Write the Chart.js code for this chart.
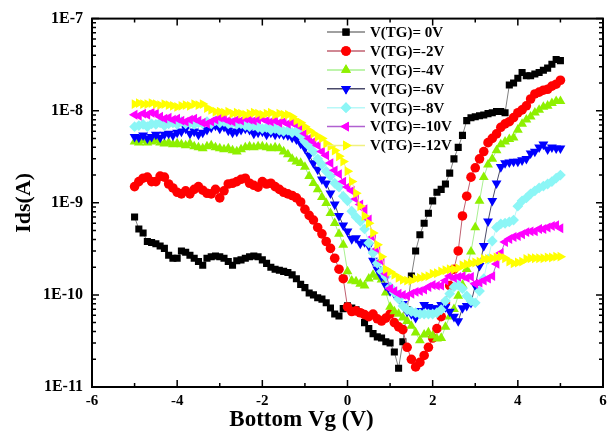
<!DOCTYPE html>
<html>
<head>
<meta charset="utf-8">
<script src="https://cdn.jsdelivr.net/npm/chart.js@4/dist/chart.umd.min.js"></script>
<style>
  html, body { margin: 0; padding: 0; background: #fff; }
  canvas { display: block; }
</style>
</head>
<body>
<canvas id="c" width="615" height="435"></canvas>
<script>
// ---------------- DATA ----------------
const vg = [
  -5.0, -4.9, -4.8, -4.7, -4.6, -4.5, -4.4, -4.3, -4.2, -4.1,
  -4.0, -3.9, -3.8, -3.7, -3.6, -3.5, -3.4, -3.3, -3.2, -3.1,
  -3.0, -2.9, -2.8, -2.7, -2.6, -2.5, -2.4, -2.3, -2.2, -2.1,
  -2.0, -1.9, -1.8, -1.7, -1.6, -1.5, -1.4, -1.3, -1.2, -1.1,
  -1.0, -0.9, -0.8, -0.7, -0.6, -0.5, -0.4, -0.3, -0.2, -0.1,
  0.0, 0.1, 0.2, 0.3, 0.4, 0.5, 0.6, 0.7, 0.8, 0.9,
  1.0, 1.1, 1.2, 1.3, 1.4, 1.5, 1.6, 1.7, 1.8, 1.9,
  2.0, 2.1, 2.2, 2.3, 2.4, 2.5, 2.6, 2.7, 2.8, 2.9,
  3.0, 3.1, 3.2, 3.3, 3.4, 3.5, 3.6, 3.7, 3.8, 3.9,
  4.0, 4.1, 4.2, 4.3, 4.4, 4.5, 4.6, 4.7, 4.8, 4.9,
  5.0
];

const ids_tg0 = [
  7.0e-10, 5.2e-10, 4.7e-10, 3.8e-10, 3.7e-10, 3.6e-10, 3.4e-10, 3.2e-10, 2.7e-10, 2.5e-10,
  2.5e-10, 3.0e-10, 2.9e-10, 2.7e-10, 2.5e-10, 2.3e-10, 2.1e-10, 2.5e-10, 2.6e-10, 2.65e-10,
  2.6e-10, 2.5e-10, 2.3e-10, 2.1e-10, 2.35e-10, 2.4e-10, 2.5e-10, 2.6e-10, 2.65e-10, 2.6e-10,
  2.4e-10, 2.2e-10, 2.0e-10, 1.9e-10, 1.85e-10, 1.8e-10, 1.75e-10, 1.65e-10, 1.5e-10, 1.3e-10,
  1.2e-10, 1.05e-10, 1.0e-10, 9.3e-11, 9.0e-11, 8.2e-11, 7.2e-11, 6.2e-11, 5.9e-11, 7.1e-11,
  7.6e-11, 7.2e-11, 6.9e-11, 6.4e-11, 5.0e-11, 4.3e-11, 3.8e-11, 3.5e-11, 3.4e-11, 3.1e-11,
  3.0e-11, 2.4e-11, 1.6e-11, 3.1e-11, 6.9e-11, 1.6e-10, 3.0e-10, 4.5e-10, 6.0e-10, 7.7e-10,
  1.05e-9, 1.3e-9, 1.4e-9, 1.6e-9, 2.1e-9, 3.0e-9, 4.0e-9, 5.4e-9, 7.8e-9, 8.4e-9,
  8.6e-9, 8.8e-9, 9.0e-9, 9.3e-9, 9.5e-9, 9.8e-9, 9.8e-9, 9.5e-9, 1.9e-8, 2.0e-8,
  2.25e-8, 2.6e-8, 2.4e-8, 2.4e-8, 2.5e-8, 2.6e-8, 2.75e-8, 2.9e-8, 3.2e-8, 3.6e-8,
  3.5e-8
];

const ids_tgm2 = [
  1.5e-9, 1.7e-9, 1.85e-9, 1.9e-9, 1.7e-9, 1.7e-9, 1.95e-9, 1.9e-9, 1.6e-9, 1.45e-9,
  1.3e-9, 1.25e-9, 1.35e-9, 1.25e-9, 1.4e-9, 1.5e-9, 1.37e-9, 1.27e-9, 1.25e-9, 1.4e-9,
  1.13e-9, 1.35e-9, 1.6e-9, 1.63e-9, 1.7e-9, 1.8e-9, 1.85e-9, 1.63e-9, 1.55e-9, 1.48e-9,
  1.7e-9, 1.6e-9, 1.63e-9, 1.5e-9, 1.4e-9, 1.3e-9, 1.25e-9, 1.2e-9, 1.13e-9, 1.02e-9,
  8.5e-10, 7.3e-10, 6.5e-10, 5.4e-10, 4.6e-10, 3.8e-10, 3.2e-10, 2.5e-10, 1.9e-10, 1.5e-10,
  7.4e-11, 6.6e-11, 6.7e-11, 6.4e-11, 6.1e-11, 5.8e-11, 6.2e-11, 5.5e-11, 5.2e-11, 5.6e-11,
  6.2e-11, 5.0e-11, 4.5e-11, 4.2e-11, 2.7e-11, 2.0e-11, 1.65e-11, 1.85e-11, 2.2e-11, 2.7e-11,
  3.4e-11, 4.3e-11, 5.8e-11, 8.2e-11, 1.26e-10, 1.9e-10, 3.0e-10, 7.2e-10, 1.18e-9, 1.9e-9,
  2.4e-9, 3.0e-9, 3.6e-9, 4.5e-9, 5.0e-9, 5.6e-9, 6.6e-9, 7.2e-9, 7.6e-9, 8.4e-9,
  9.5e-9, 1.02e-8, 1.13e-8, 1.34e-8, 1.52e-8, 1.59e-8, 1.67e-8, 1.71e-8, 1.85e-8, 1.94e-8,
  2.14e-8
];

const ids_tgm4 = [
  4.6e-9, 4.5e-9, 4.75e-9, 4.5e-9, 4.6e-9, 4.75e-9, 4.5e-9, 4.4e-9, 4.5e-9, 4.3e-9,
  4.4e-9, 4.3e-9, 4.2e-9, 4.4e-9, 4.1e-9, 4.0e-9, 3.9e-9, 4.1e-9, 4.2e-9, 4.0e-9,
  3.9e-9, 3.8e-9, 3.9e-9, 3.7e-9, 3.6e-9, 3.8e-9, 4.0e-9, 4.1e-9, 4.0e-9, 4.1e-9,
  4.1e-9, 4.0e-9, 3.9e-9, 4.0e-9, 3.9e-9, 3.6e-9, 3.35e-9, 3.0e-9, 2.8e-9, 2.7e-9,
  2.45e-9, 1.95e-9, 1.63e-9, 1.4e-9, 1.15e-9, 9.9e-10, 7.7e-10, 6.0e-10, 4.6e-10, 3.5e-10,
  1.8e-10, 1.43e-10, 1.4e-10, 1.32e-10, 1.26e-10, 1.5e-10, 1.65e-10, 1.57e-10, 1.46e-10, 1.06e-10,
  7.4e-11, 6.6e-11, 6.2e-11, 5.65e-11, 5.2e-11, 4.6e-11, 3.9e-11, 3.2e-11, 3.7e-11, 3.9e-11,
  3.6e-11, 3.35e-11, 3.4e-11, 4.5e-11, 5.8e-11, 7.0e-11, 9.75e-11, 1.28e-10, 1.9e-10, 2.95e-10,
  5.4e-10, 1.05e-9, 1.9e-9, 2.6e-9, 3.0e-9, 3.7e-9, 4.3e-9, 4.6e-9, 4.9e-9, 5.1e-9,
  6.2e-9, 7.2e-9, 8.0e-9, 8.6e-9, 9.5e-9, 1.02e-8, 1.1e-8, 1.13e-8, 1.21e-8, 1.27e-8,
  1.27e-8
];

const ids_tgm6 = [
  5.2e-9, 5.1e-9, 5.4e-9, 5.0e-9, 5.2e-9, 5.5e-9, 5.1e-9, 5.5e-9, 5.65e-9, 5.4e-9,
  5.8e-9, 5.95e-9, 6.4e-9, 5.65e-9, 5.95e-9, 5.5e-9, 5.8e-9, 6.2e-9, 6.55e-9, 6.9e-9,
  6.4e-9, 6.7e-9, 6.1e-9, 5.8e-9, 5.95e-9, 6.2e-9, 6.4e-9, 6.2e-9, 5.65e-9, 5.8e-9,
  5.95e-9, 5.5e-9, 5.8e-9, 5.5e-9, 5.65e-9, 5.5e-9, 5.4e-9, 5.1e-9, 4.9e-9, 4.4e-9,
  3.9e-9, 3.27e-9, 2.7e-9, 2.3e-9, 1.8e-9, 1.63e-9, 1.27e-9, 9.6e-10, 7.2e-10, 5.7e-10,
  4.9e-10, 4.05e-10, 4.15e-10, 3.6e-10, 3.75e-10, 3.4e-10, 2.35e-10, 1.9e-10, 1.57e-10, 1.26e-10,
  1.1e-10, 1.03e-10, 9.3e-11, 8.0e-11, 6.6e-11, 6.2e-11, 5.65e-11, 6.7e-11, 7.8e-11, 7.4e-11,
  7.2e-11, 7.2e-11, 7.8e-11, 7.4e-11, 6.6e-11, 5.8e-11, 5.2e-11, 7.2e-11, 7.6e-11, 8.2e-11,
  1.26e-10, 2.07e-10, 3.4e-10, 6.3e-10, 1.05e-9, 1.63e-9, 2.45e-9, 2.7e-9, 2.75e-9, 2.8e-9,
  2.8e-9, 2.9e-9, 3.0e-9, 3.45e-9, 3.6e-9, 4.0e-9, 4.3e-9, 3.8e-9, 4.0e-9, 3.9e-9,
  3.9e-9
];

const ids_tgm8 = [
  6.7e-9, 6.9e-9, 7.1e-9, 6.7e-9, 7.2e-9, 7.1e-9, 7.4e-9, 6.9e-9, 7.2e-9, 7.4e-9,
  7.1e-9, 7.6e-9, 7.2e-9, 7.4e-9, 7.1e-9, 7.4e-9, 7.2e-9, 7.6e-9, 7.2e-9, 7.8e-9,
  7.4e-9, 7.6e-9, 7.2e-9, 7.4e-9, 7.1e-9, 7.2e-9, 6.9e-9, 6.7e-9, 6.9e-9, 6.55e-9,
  6.4e-9, 6.55e-9, 6.2e-9, 6.4e-9, 6.1e-9, 5.95e-9, 6.1e-9, 5.8e-9, 5.95e-9, 5.4e-9,
  4.6e-9, 4.1e-9, 3.6e-9, 3.0e-9, 2.6e-9, 2.2e-9, 1.95e-9, 1.63e-9, 1.48e-9, 1.18e-9,
  1.05e-9, 8.1e-10, 7.0e-10, 6.3e-10, 5.2e-10, 3.65e-10, 2.85e-10, 2.2e-10, 1.8e-10, 1.57e-10,
  1.22e-10, 1.06e-10, 9.0e-11, 7.6e-11, 6.9e-11, 6.6e-11, 6.4e-11, 6.2e-11, 6.2e-11, 6.2e-11,
  6.2e-11, 6.4e-11, 6.9e-11, 8.6e-11, 1.03e-10, 1.22e-10, 1.28e-10, 1.17e-10, 9.75e-11, 8.6e-11,
  8.2e-11, 1.1e-10, 1.5e-10, 2.45e-10, 3.85e-10, 5.4e-10, 5.9e-10, 6.0e-10, 6.2e-10, 6.5e-10,
  9.2e-10, 1.05e-9, 1.13e-9, 1.25e-9, 1.35e-9, 1.45e-9, 1.52e-9, 1.6e-9, 1.7e-9, 1.85e-9,
  2.0e-9
];

const ids_tgm10 = [
  9.05e-9, 8.8e-9, 9.3e-9, 9.05e-9, 9.5e-9, 9.3e-9, 8.6e-9, 8.2e-9, 8.4e-9, 8.0e-9,
  8.2e-9, 7.8e-9, 7.6e-9, 8.0e-9, 8.2e-9, 7.8e-9, 7.4e-9, 7.2e-9, 7.6e-9, 8.0e-9,
  8.4e-9, 8.2e-9, 7.8e-9, 7.6e-9, 8.0e-9, 7.8e-9, 8.2e-9, 8.0e-9, 7.8e-9, 8.0e-9,
  8.2e-9, 7.8e-9, 7.6e-9, 7.8e-9, 7.4e-9, 7.6e-9, 7.2e-9, 7.4e-9, 7.1e-9, 6.7e-9,
  5.65e-9, 5.0e-9, 4.6e-9, 4.2e-9, 3.6e-9, 3.27e-9, 2.7e-9, 2.25e-9, 2.05e-9, 1.7e-9,
  1.48e-9, 1.35e-9, 1.1e-9, 9.6e-10, 8.5e-10, 6.6e-10, 4.25e-10, 3.15e-10, 2.35e-10, 1.7e-10,
  1.17e-10, 1.1e-10, 1.03e-10, 1.0e-10, 9.75e-11, 1.03e-10, 1.08e-10, 1.1e-10, 1.14e-10, 1.22e-10,
  1.28e-10, 1.26e-10, 1.26e-10, 1.43e-10, 1.6e-10, 1.53e-10, 1.57e-10, 1.6e-10, 1.53e-10, 1.57e-10,
  1.32e-10, 1.36e-10, 1.43e-10, 1.5e-10, 1.6e-10, 2.17e-10, 2.85e-10, 3.75e-10, 4.05e-10, 4.25e-10,
  4.35e-10, 4.55e-10, 4.8e-10, 4.9e-10, 4.9e-10, 5.2e-10, 5.2e-10, 5.4e-10, 5.6e-10, 5.7e-10,
  5.3e-10
];

const ids_tgm12 = [
  1.18e-8, 1.21e-8, 1.18e-8, 1.18e-8, 1.21e-8, 1.18e-8, 1.15e-8, 1.18e-8, 1.15e-8, 1.13e-8,
  1.1e-8, 1.13e-8, 1.15e-8, 1.13e-8, 1.18e-8, 1.15e-8, 1.18e-8, 1.07e-8, 1.02e-8, 9.75e-9,
  9.75e-9, 9.5e-9, 9.75e-9, 9.3e-9, 9.5e-9, 9.3e-9, 9.05e-9, 9.3e-9, 9.5e-9, 9.3e-9,
  9.05e-9, 9.3e-9, 9.5e-9, 9.05e-9, 9.3e-9, 9.05e-9, 9.05e-9, 8.6e-9, 7.8e-9, 7.4e-9,
  6.7e-9, 6.1e-9, 5.65e-9, 5.2e-9, 5.0e-9, 4.4e-9, 4.1e-9, 3.7e-9, 3.2e-9, 2.8e-9,
  2.2e-9, 1.7e-9, 1.27e-9, 9.2e-10, 7.2e-10, 6.0e-10, 4.7e-10, 3.5e-10, 2.6e-10, 1.9e-10,
  1.78e-10, 1.65e-10, 1.53e-10, 1.46e-10, 1.43e-10, 1.43e-10, 1.5e-10, 1.53e-10, 1.57e-10, 1.6e-10,
  1.7e-10, 1.72e-10, 1.8e-10, 1.85e-10, 1.9e-10, 1.9e-10, 1.95e-10, 2.1e-10, 2.15e-10, 2.2e-10,
  2.25e-10, 2.3e-10, 2.45e-10, 2.45e-10, 2.5e-10, 2.55e-10, 2.6e-10, 2.5e-10, 2.3e-10, 2.2e-10,
  2.25e-10, 2.3e-10, 2.45e-10, 2.5e-10, 2.5e-10, 2.5e-10, 2.5e-10, 2.55e-10, 2.55e-10, 2.6e-10,
  2.6e-10
];

const seriesLabels = ['V(TG)= 0V', 'V(TG)=-2V', 'V(TG)=-4V', 'V(TG)=-6V', 'V(TG)=-8V', 'V(TG)=-10V', 'V(TG)=-12V'];
const xTickValues = [-6, -4, -2, 0, 2, 4, 6];
const yTickValues = [1e-11, 1e-10, 1e-9, 1e-8, 1e-7];
const yTickLabels = ['1E-11', '1E-10', '1E-9', '1E-8', '1E-7'];
const xTitle = 'Bottom Vg (V)';
const yTitle = 'Ids(A)';

// ---------------- STYLES ----------------
const allSeries = [ids_tg0, ids_tgm2, ids_tgm4, ids_tgm6, ids_tgm8, ids_tgm10, ids_tgm12];
const markerColors = ['#000000', '#ff0000', '#8ef000', '#0000ff', '#8cf6f6', '#ff00ff', '#ffff00'];
const lineColors = ['#808080', '#c06070', '#a8f090', '#4a4a6a', '#b8f8f8', '#b060d0', '#f0f080'];
const pointStyles = ['rect', 'circle', 'triangle', 'triangle', 'rectRot', 'triangle', 'triangle'];
const pointRotations = [0, 0, 0, 180, 0, -90, 90];
const pointRadii = [5.0, 4.8, 5.7, 5.7, 5.4, 5.7, 5.7];
const FONT = "'Liberation Serif', 'Times New Roman', serif";

const datasets = allSeries.map((vals, i) => ({
  label: seriesLabels[i],
  data: vg.map((v, k) => ({ x: v, y: vals[k] })),
  showLine: true,
  borderColor: lineColors[i],
  borderWidth: 1,
  backgroundColor: markerColors[i],
  pointBackgroundColor: markerColors[i],
  pointBorderColor: markerColors[i],
  pointBorderWidth: 0,
  pointStyle: pointStyles[i],
  rotation: pointRotations[i],
  pointRadius: pointRadii[i],
  pointHoverRadius: pointRadii[i],
  tension: 0,
  order: allSeries.length - i
}));

// Frame, inward ticks on all four sides
const framePlugin = {
  id: 'frame',
  afterDraw(chart) {
    const { ctx, chartArea: a, scales } = chart;
    const xs = scales.x, ys = scales.y;
    ctx.save();
    ctx.strokeStyle = '#000';
    ctx.lineCap = 'butt';
    ctx.lineWidth = 1.5;
    ctx.beginPath();
    for (let v = -6; v <= 6; v += 1) {
      const px = xs.getPixelForValue(v);
      const len = (v % 2 === 0) ? 7 : 4;
      ctx.moveTo(px, a.bottom); ctx.lineTo(px, a.bottom - len);
      ctx.moveTo(px, a.top); ctx.lineTo(px, a.top + len);
    }
    for (let e = -11; e <= -7; e++) {
      for (let k = 1; k <= 9; k++) {
        const v = k * Math.pow(10, e);
        if (v > 1.0001e-7) break;
        const py = ys.getPixelForValue(v);
        const len = (k === 1) ? 7 : 4;
        ctx.moveTo(a.left, py); ctx.lineTo(a.left + len, py);
        ctx.moveTo(a.right, py); ctx.lineTo(a.right - len, py);
      }
    }
    ctx.stroke();
    ctx.lineWidth = 2;
    ctx.strokeRect(a.left, a.top, a.right - a.left, a.bottom - a.top);
    ctx.restore();
  }
};

// Legend drawn inside the plot area
const innerLegend = {
  id: 'innerLegend',
  afterDraw(chart) {
    const { ctx, chartArea: a } = chart;
    const x0 = a.left + 235, x1 = a.left + 273, xm = a.left + 254, xt = a.left + 278;
    const yTop = a.top + 13.5, gap = 18.9;
    ctx.save();
    ctx.font = "bold 15px " + FONT;
    ctx.textAlign = 'left';
    ctx.textBaseline = 'middle';
    chart.data.datasets.forEach((ds, i) => {
      const y = yTop + i * gap;
      ctx.strokeStyle = ds.borderColor;
      ctx.lineWidth = 1.5;
      ctx.beginPath(); ctx.moveTo(x0, y); ctx.lineTo(x1, y); ctx.stroke();
      ctx.fillStyle = ds.pointBackgroundColor;
      Chart.helpers.drawPoint(ctx, {
        pointStyle: ds.pointStyle, rotation: ds.rotation, radius: ds.pointRadius, borderWidth: 0
      }, xm, y);
      ctx.fill();
      ctx.fillStyle = '#000';
      ctx.fillText(ds.label, xt, y + 1);
    });
    ctx.restore();
  }
};

new Chart(document.getElementById('c'), {
  type: 'scatter',
  data: { datasets },
  options: {
    responsive: false,
    devicePixelRatio: 1,
    animation: false,
    events: [],
    layout: { padding: { top: 16, right: 12, left: 0, bottom: 0 } },
    plugins: {
      legend: { display: false },
      tooltip: { enabled: false },
      title: {
        display: true,
        text: xTitle,
        position: 'bottom',
        color: '#000',
        font: { family: FONT, size: 23, weight: 'bold' },
        padding: { top: 0, bottom: 1 }
      }
    },
    scales: {
      x: {
        type: 'linear',
        min: -6, max: 6,
        grid: { display: false, drawTicks: false },
        border: { display: false },
        afterBuildTicks: (s) => { s.ticks = xTickValues.map(v => ({ value: v })); },
        afterFit: (s) => { s.height = 19.4; },
        ticks: {
          color: '#000',
          padding: 5,
          maxRotation: 0,
          autoSkip: false,
          font: { family: FONT, size: 15, weight: 'bold' },
          callback: (v) => String(v)
        }
      },
      y: {
        type: 'logarithmic',
        min: 1e-11, max: 1e-7,
        grid: { display: false, drawTicks: false },
        border: { display: false },
        afterBuildTicks: (s) => { s.ticks = yTickValues.map(v => ({ value: v })); },
        afterFit: (s) => { s.width = 92; },
        ticks: {
          color: '#000',
          padding: 9,
          autoSkip: false,
          font: { family: FONT, size: 16, weight: 'bold' },
          callback: (v) => { const i = yTickValues.indexOf(v); return i >= 0 ? yTickLabels[i] : ''; }
        },
        title: {
          display: true,
          text: yTitle,
          color: '#000',
          font: { family: FONT, size: 22, weight: 'bold' },
          padding: { top: 11, bottom: 0 }
        }
      }
    }
  },
  plugins: [framePlugin, innerLegend]
});
</script>
</body>
</html>
